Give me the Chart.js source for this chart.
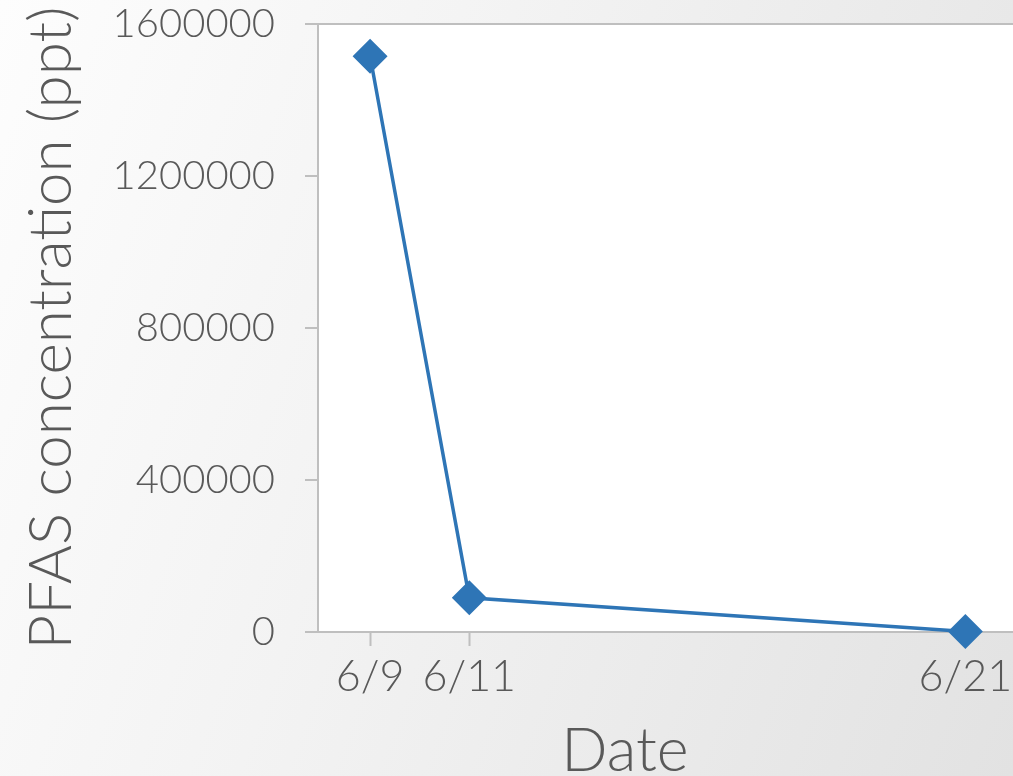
<!DOCTYPE html>
<html>
<head>
<meta charset="utf-8">
<script src="https://cdn.jsdelivr.net/npm/chart.js@4"></script>
<style>
  html, body { margin: 0; padding: 0; overflow: hidden; }
  body {
    width: 1013px; height: 776px;
    background: linear-gradient(110deg, #fdfdfd 0%, #f3f3f3 40%, #e2e2e2 100%);
  }
  #wrap { width: 1013px; height: 776px; position: relative; }
</style>
</head>
<body>
<div id="wrap"><canvas id="myChart"></canvas></div>
<script>
const dates = ["6/9", "6/11", "6/21"];
const days = [9, 11, 21];
const pfas = [1515000, 90000, 1500];
const yTicks = [0, 400000, 800000, 1200000, 1600000];
const xTitle = "Date";
const yTitle = "PFAS concentration (ppt)";

const grey = "#bfbfbf";
const textColor = "#595959";
const fontFamily = "Lato, 'Open Sans', sans-serif";

// white plot area on top of the grey page gradient
const plotBg = {
  id: "plotBg",
  beforeDraw(chart) {
    const { ctx, chartArea: a } = chart;
    ctx.save();
    ctx.fillStyle = "#ffffff";
    ctx.fillRect(a.left, a.top, a.right - a.left, a.bottom - a.top);
    ctx.restore();
  },
};

// x title sits off-centre in the original (the chart was cropped on the right)
const dateTitle = {
  id: "dateTitle",
  afterDraw(chart) {
    const { ctx } = chart;
    ctx.save();
    ctx.fillStyle = textColor;
    ctx.font = "300 61px " + fontFamily;
    ctx.textAlign = "center";
    ctx.textBaseline = "alphabetic";
    ctx.fillText(xTitle, 625, 771);
    ctx.restore();
  },
};

const ctx = document.getElementById("myChart");

new Chart(ctx, {
  type: "line",
  data: {
    datasets: [
      {
        data: days.map((d, i) => ({ x: d, y: pfas[i] })),
        borderColor: "#2e75b6",
        backgroundColor: "#2e75b6",
        borderWidth: 3.5,
        pointStyle: "rectRot",
        pointRadius: 15,
        pointHoverRadius: 15,
        tension: 0,
        clip: false,
      },
    ],
  },
  options: {
    responsive: true,
    maintainAspectRatio: false,
    animation: false,
    layout: {
      autoPadding: false,
      padding: { top: 24, right: 0, bottom: 0, left: 0 },
    },
    plugins: {
      legend: { display: false },
      tooltip: { enabled: false },
    },
    scales: {
      x: {
        type: "linear",
        min: 7.95,
        max: 21.96,
        afterBuildTicks: (scale) => {
          scale.ticks = days.map((d) => ({ value: d }));
        },
        afterFit: (scale) => {
          scale.height = 144;
          scale.paddingLeft = 0;
          scale.paddingRight = 0;
        },
        ticks: {
          color: textColor,
          font: { family: fontFamily, size: 43, weight: 300 },
          padding: 5,
          maxRotation: 0,
          autoSkip: false,
          callback: (value) => dates[days.indexOf(value)],
        },
        grid: {
          drawOnChartArea: false,
          tickLength: 14,
          tickColor: grey,
          tickWidth: 2,
        },
        border: { display: true, color: grey, width: 2 },
        title: { display: false },
      },
      y: {
        min: 0,
        max: 1600000,
        afterBuildTicks: (scale) => {
          scale.ticks = yTicks.map((v) => ({ value: v }));
        },
        afterFit: (scale) => {
          scale.width = 318;
          scale.paddingTop = 0;
          scale.paddingBottom = 0;
        },
        ticks: {
          color: textColor,
          font: { family: fontFamily, size: 40, weight: 300 },
          padding: 30,
          callback: (value) => String(value),
        },
        grid: {
          color: (c) => (c.tick && c.tick.value === 1600000 ? grey : "rgba(0,0,0,0)"),
          lineWidth: 2,
          tickLength: 13,
          tickColor: grey,
          tickWidth: 2,
        },
        border: { display: true, color: grey, width: 2 },
        title: {
          display: true,
          text: yTitle,
          color: textColor,
          font: { family: fontFamily, size: 60, weight: 300 },
          padding: { top: 16, bottom: 0 },
        },
      },
    },
  },
  plugins: [plotBg, dateTitle],
});
</script>
</body>
</html>
